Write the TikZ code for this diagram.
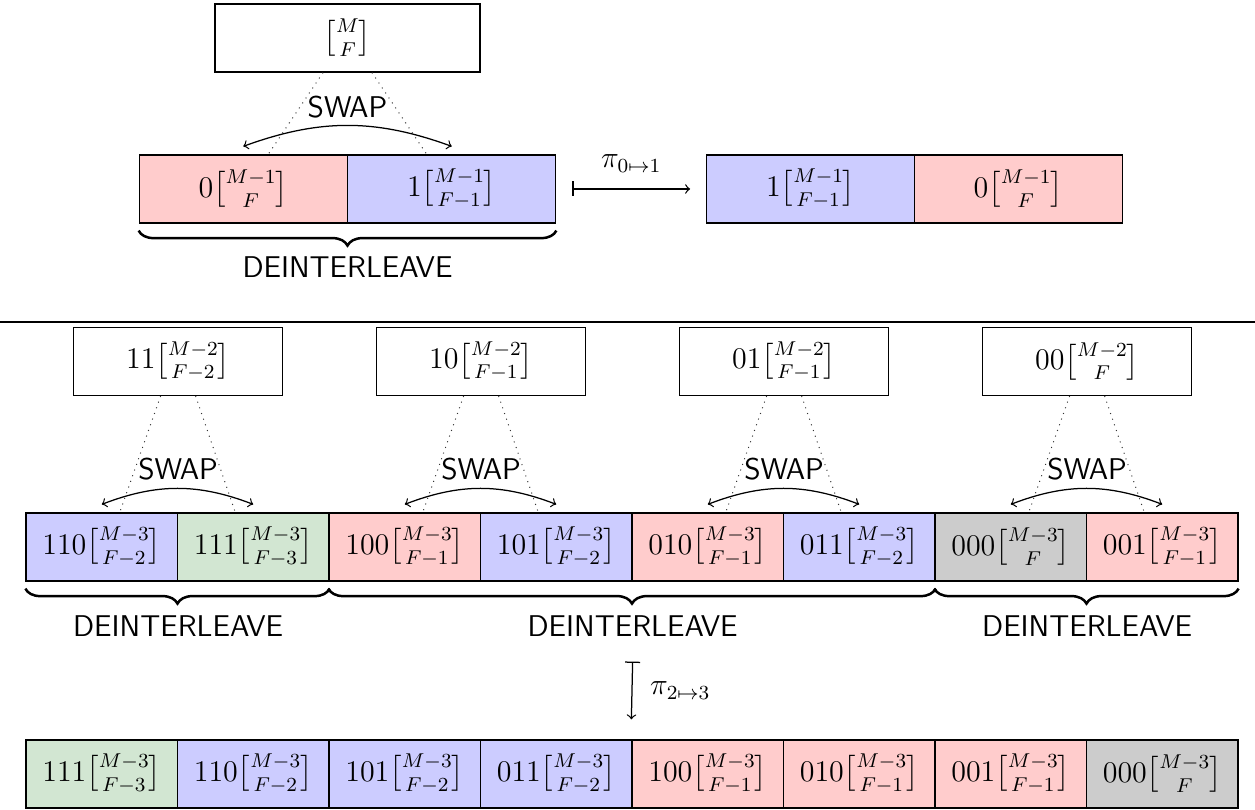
\documentclass[tikz,border=0pt]{standalone}
\usepackage{amsmath}
\usetikzlibrary{decorations.pathreplacing,calc}
\definecolor{cred}{RGB}{255,204,204}
\definecolor{cblue}{RGB}{204,204,255}
\definecolor{cgreen}{RGB}{210,230,210}
\definecolor{cgray}{RGB}{204,204,204}
\newcommand{\bk}[2]{\genfrac{[}{]}{0pt}{}{#1}{#2}}
\begin{document}
\fontsize{12pt}{14pt}\selectfont
\begin{tikzpicture}[x=0.4pt,y=-0.4pt,
  box/.style={draw, line width=0.5pt, minimum height=27.2pt, inner sep=0pt},
  bigcell/.style={box, minimum width=83.2pt},
  smallcell/.style={box, minimum width=60.6pt},
  upbox/.style={box, minimum width=83.6pt},
  swaplbl/.style={font=\sffamily, inner sep=0pt},
  swaparrow/.style={<->, line width=0.5pt},
  dotline/.style={dotted, line width=0.4pt, black!80},
  brc/.style={decorate, decoration={brace, mirror, amplitude=6pt, raise=2.8pt}, line width=1pt},
  maparrow/.style={|->, line width=0.5pt}
]
\useasboundingbox (0,0) rectangle (1255,810);

% ---------- top part ----------
\node[box, minimum width=106pt] (T) at (347.5,38) {$\bk{M}{F}$};
\node[bigcell, fill=cred]  (A0) at (243.25,189) {$0\bk{M-1}{F}$};
\node[bigcell, fill=cblue] (A1) at (451.75,189) {$1\bk{M-1}{F-1}$};
\node[swaplbl] (S) at (347.5,107) {SWAP};
\draw[dotline] ($(T.south)+(-24.5,0)$) -- ($(A0.north)+(25,0)$);
\draw[dotline] ($(T.south)+(24.5,0)$) -- ($(A1.north)+(-25,0)$);
\draw[swaparrow] ($(A0.north)+(0,-8)$) to[bend left=20] ($(A1.north)+(0,-8)$);
\draw[brc] (A0.south west) -- (A1.south east);
\node[swaplbl] (D) at (347.5,267) {DEINTERLEAVE};

\node[bigcell, fill=cblue] (B0) at (810.75,189) {$1\bk{M-1}{F-1}$};
\node[bigcell, fill=cred]  (B1) at (1018.25,189) {$0\bk{M-1}{F}$};
\draw[maparrow] ($(A1.east)+(16,0)$) -- node[above=2.5pt] (P1) {$\pi_{0\mapsto 1}$} ($(B0.west)+(-16,0)$);

% ---------- separator ----------
\draw[line width=1pt] (0,322) -- (1255,322);

% ---------- bottom part ----------
\foreach \i/\c/\t in {
  0/cblue/{110\bk{M-3}{F-2}},
  1/cgreen/{111\bk{M-3}{F-3}},
  2/cred/{100\bk{M-3}{F-1}},
  3/cblue/{101\bk{M-3}{F-2}},
  4/cred/{010\bk{M-3}{F-1}},
  5/cblue/{011\bk{M-3}{F-2}},
  6/cgray/{000\bk{M-3}{F}},
  7/cred/{001\bk{M-3}{F-1}}}
  \node[smallcell, fill=\c] (m\i) at ({101.75+151.5*\i},547) {$\t$};

\foreach \i/\c/\t in {
  0/cgreen/{111\bk{M-3}{F-3}},
  1/cblue/{110\bk{M-3}{F-2}},
  2/cblue/{101\bk{M-3}{F-2}},
  3/cblue/{011\bk{M-3}{F-2}},
  4/cred/{100\bk{M-3}{F-1}},
  5/cred/{010\bk{M-3}{F-1}},
  6/cred/{001\bk{M-3}{F-1}},
  7/cgray/{000\bk{M-3}{F}}}
  \node[smallcell, fill=\c] (n\i) at ({101.75+151.5*\i},774) {$\t$};

\foreach \k/\l/\r/\t in {
  0/0/1/{11\bk{M-2}{F-2}},
  1/2/3/{10\bk{M-2}{F-1}},
  2/4/5/{01\bk{M-2}{F-1}},
  3/6/7/{00\bk{M-2}{F}}}
{
  \node[upbox] (b\k) at ($(m\l.north east)+(0,-151)$) {$\t$};
  \node[swaplbl] (s\k) at ($(m\l.north east)+(0,-43)$) {SWAP};
  \draw[dotline] ($(b\k.south)+(-17.5,0)$) -- ($(m\l.north)+(18,0)$);
  \draw[dotline] ($(b\k.south)+(17.5,0)$) -- ($(m\r.north)+(-18,0)$);
  \draw[swaparrow] ($(m\l.north)+(0,-8)$) to[bend left=21] ($(m\r.north)+(0,-8)$);
}

\draw[brc] (m0.south west) -- (m1.south east);
\draw[brc] (m2.south west) -- (m5.south east);
\draw[brc] (m6.south west) -- (m7.south east);
\node[swaplbl] (d0) at ($(m0.south east)+(0,44)$) {DEINTERLEAVE};
\node[swaplbl] (d1) at ($(m3.south east)+(0,44)$) {DEINTERLEAVE};
\node[swaplbl] (d2) at ($(m6.south east)+(0,44)$) {DEINTERLEAVE};

\draw[maparrow] ($(m3.south east)+(0,80)$) -- node[right=3pt] (P2) {$\pi_{2\mapsto 3}$} ($(n4.north west)+(0,-20)$);
\end{tikzpicture}
\end{document}
